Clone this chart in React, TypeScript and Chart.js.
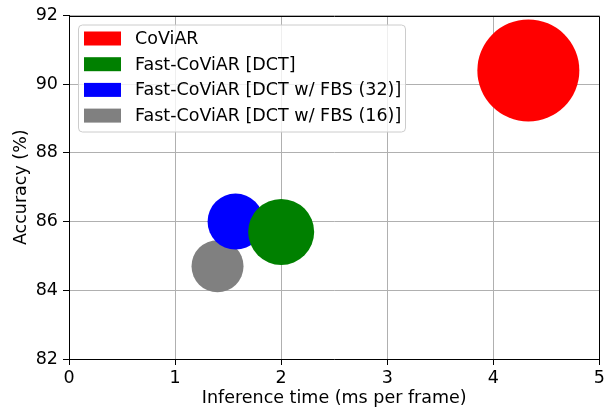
import React, { useEffect, useRef } from "react";
import { Chart, registerables } from "chart.js";

Chart.register(...registerables);

const methods = [
  "CoViAR",
  "Fast-CoViAR [DCT]",
  "Fast-CoViAR [DCT w/ FBS (32)]",
  "Fast-CoViAR [DCT w/ FBS (16)]",
];
const inferenceTime = [4.33, 2.0, 1.57, 1.4];
const accuracy = [90.4, 85.7, 86.0, 84.7];
const bubbleSize = [51, 33, 28, 26];
const colors = ["#ff0000", "#008000", "#0000ff", "#808080"];
const xTicks = [0, 1, 2, 3, 4, 5];
const yTicks = [82, 84, 86, 88, 90, 92];

const FONT = "DejaVu Sans";
const FS = 17.5;

const framePlugin = {
  id: "frameAndLegend",
  afterDraw(chart: any) {
    const ctx = chart.ctx;
    const a = chart.chartArea;
    ctx.save();
    ctx.strokeStyle = "#000";
    ctx.lineWidth = 1;
    ctx.beginPath();
    ctx.moveTo(Math.round(a.left) + 0.5, Math.round(a.top) + 0.5);
    ctx.lineTo(Math.round(a.right) + 0.5, Math.round(a.top) + 0.5);
    ctx.lineTo(Math.round(a.right) + 0.5, Math.round(a.bottom) + 0.5);
    ctx.stroke();

    const bx = a.left + 9;
    const by = a.top + 9;
    const bw = 327;
    const bh = 107;
    ctx.beginPath();
    (ctx as any).roundRect(bx + 0.5, by + 0.5, bw, bh, 4);
    ctx.fillStyle = "rgba(255,255,255,0.8)";
    ctx.fill();
    ctx.strokeStyle = "#cccccc";
    ctx.stroke();
    ctx.font = `${FS}px "${FONT}"`;
    ctx.textBaseline = "middle";
    ctx.textAlign = "left";
    chart.data.datasets.forEach((ds: any, i: number) => {
      const cy = by + 14 + i * 25.7;
      ctx.fillStyle = ds.backgroundColor;
      ctx.fillRect(bx + 6, cy - 7, 37, 14);
      ctx.fillStyle = "#000";
      ctx.fillText(ds.label, bx + 57, cy + 1);
    });
    ctx.restore();
  },
};

export default function App() {
  const ref = useRef<HTMLCanvasElement | null>(null);
  useEffect(() => {
    if (!ref.current) return;
    const chart = new Chart(ref.current, {
      type: "bubble",
      data: {
        datasets: methods.map((m, i) => ({
          label: m,
          data: [{ x: inferenceTime[i], y: accuracy[i], r: bubbleSize[i] }],
          backgroundColor: colors[i],
          borderColor: colors[i],
          borderWidth: 0,
          hoverRadius: 0,
        })),
      },
      options: {
        animation: false,
        responsive: true,
        maintainAspectRatio: false,
        devicePixelRatio: 1,
        events: [],
        layout: { autoPadding: false, padding: { left: 0, right: 7, top: 14, bottom: 0 } },
        plugins: { legend: { display: false }, tooltip: { enabled: false } },
        scales: {
          x: {
            type: "linear",
            min: 0,
            max: 5,
            z: 1,
            afterFit: (s: any) => {
              s.height = 50;
            },
            afterBuildTicks: (s: any) => {
              s.ticks = xTicks.map((v) => ({ value: v }));
            },
            ticks: {
              color: "#000",
              font: { family: FONT, size: FS },
              padding: 3,
              maxRotation: 0,
              callback: (v: any) => String(v),
            },
            grid: {
              color: "#b0b0b0",
              lineWidth: 1,
              tickColor: "#000",
              tickLength: 6,
            },
            border: { color: "#000", width: 1 },
            title: {
              display: true,
              text: "Inference time (ms per frame)",
              color: "#000",
              font: { family: FONT, size: FS },
              padding: { top: 0, bottom: 0 },
            },
          },
          y: {
            type: "linear",
            min: 82,
            max: 92,
            z: 1,
            afterFit: (s: any) => {
              s.width = 69;
            },
            afterBuildTicks: (s: any) => {
              s.ticks = yTicks.map((v) => ({ value: v }));
            },
            ticks: {
              color: "#000",
              font: { family: FONT, size: FS },
              padding: 5,
              callback: (v: any) => String(v),
            },
            grid: {
              color: "#b0b0b0",
              lineWidth: 1,
              tickColor: "#000",
              tickLength: 6,
            },
            border: { color: "#000", width: 1 },
            title: {
              display: true,
              text: "Accuracy (%)",
              color: "#000",
              font: { family: FONT, size: FS },
              padding: { top: 11, bottom: 0 },
            },
          },
        },
      },
      plugins: [framePlugin],
    } as any);
    return () => chart.destroy();
  }, []);
  return (
    <div style={{ position: "fixed", left: 0, top: 0, width: 608, height: 409, background: "#fff" }}>
      <canvas ref={ref} />
    </div>
  );
}
